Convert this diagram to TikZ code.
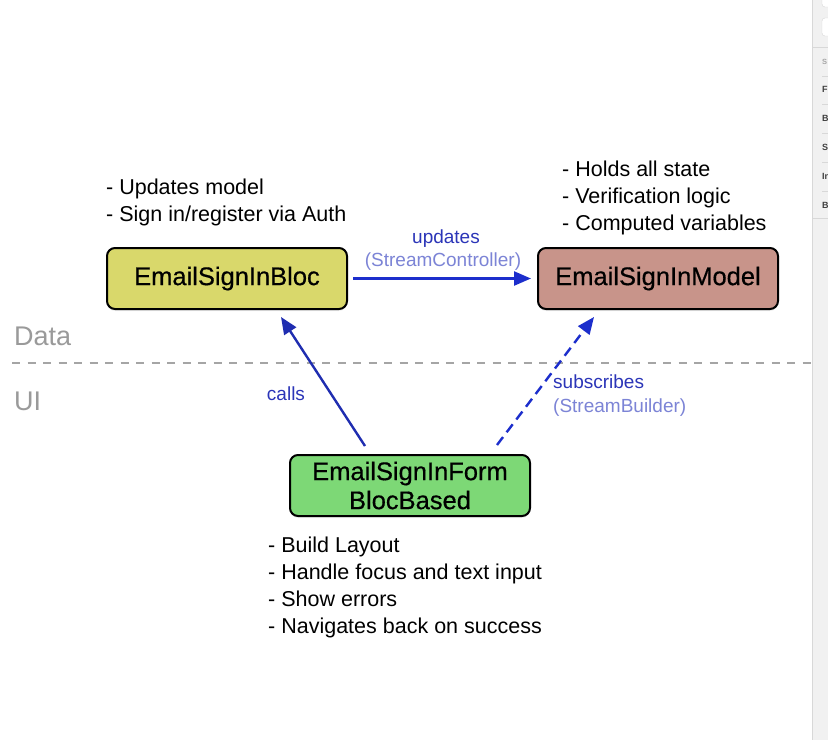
\documentclass[tikz,border=0pt]{standalone}
\usepackage{fontspec}
\setmainfont{Liberation Sans}
\newfontfamily\medfont{Liberation Sans}[FakeBold=0.5]
\usetikzlibrary{arrows.meta,shadows}
\definecolor{blocfill}{HTML}{D9D86B}
\definecolor{modelfill}{HTML}{C8948A}
\definecolor{formfill}{HTML}{7DD876}
\definecolor{arrblue}{HTML}{1C2ECC}
\definecolor{arrdark}{HTML}{1F2DB0}
\definecolor{lbldark}{HTML}{2B35B8}
\definecolor{lbllight}{HTML}{7C84D6}
\definecolor{sepgray}{HTML}{A5A5A5}
\definecolor{laygray}{HTML}{9A9A9A}
\definecolor{panelgray}{HTML}{F1F1F1}
\definecolor{panelline}{HTML}{D8D8D8}
\tikzset{
  classbox/.style={draw=black, line width=2pt, rounded corners=8pt,
    minimum width=240pt, minimum height=61pt, inner sep=0pt, align=center,
    font=\medfont\fontsize{25.5}{29}\selectfont,
    drop shadow={shadow xshift=0pt, shadow yshift=-2pt, opacity=0.12}},
  bullets/.style={anchor=base west, inner sep=0pt, align=left,
    font=\fontsize{21.5}{27}\selectfont},
  flow/.style={line width=2.4pt, -{Triangle[length=17pt,width=14pt]}},
  lbl/.style={inner sep=0pt, anchor=base, font=\fontsize{19}{23}\selectfont},
  layer/.style={inner sep=0pt, anchor=base west, text=laygray, font=\fontsize{27}{30}\selectfont},
  sidetxt/.style={inner sep=0pt, anchor=base west, font=\bfseries\fontsize{9}{10}\selectfont}
}
\begin{document}
\begin{tikzpicture}[x=1pt,y=-1pt]
\path[use as bounding box, fill=white] (0,0) rectangle (828,740);

% side panel of the window
\begin{scope}
\clip (0,0) rectangle (828,740);
\fill[panelgray] (812,0) rectangle (830,740);
\draw[panelline, line width=1pt] (812,0) -- (812,740);
\draw[panelline, fill=white, rounded corners=3pt] (822,-4) rectangle (836,7);
\draw[panelline, fill=white, rounded corners=3pt] (822,18) rectangle (836,36);
\draw[panelline] (812,47) -- (830,47);
\node[sidetxt, text=gray!70, font=\bfseries\fontsize{7.5}{9}\selectfont] (s0) at (822,64) {S};
\node[sidetxt, text=black!75] (s1) at (822,92) {F};
\node[sidetxt, text=black!75] (s2) at (822,121) {B};
\node[sidetxt, text=black!75] (s3) at (822,150) {S};
\node[sidetxt, text=black!75] (s4) at (822,179) {In};
\node[sidetxt, text=black!75] (s5) at (822,208) {B};
\foreach \yy in {76,104,133,162,191}{\draw[panelline] (822,\yy) -- (830,\yy);}
\draw[panelline] (812,218) -- (830,218);
\end{scope}

% layer separator
\draw[sepgray, line width=1.6pt, dash pattern=on 8pt off 7.5pt] (12,363) -- (812,363);
\node[layer] (data) at (14,345) {Data};
\node[layer] (ui) at (14,410) {UI};

% classes
\node[classbox, fill=blocfill] (bloc) at (227,278.5) {EmailSignInBloc};
\node[classbox, fill=modelfill] (model) at (658,278.5) {EmailSignInModel};
\node[classbox, fill=formfill] (form) at (410,485.5) {EmailSignInForm\\BlocBased};

% notes (base anchor = baseline of the last line)
\node[bullets] (blocnotes) at (106,221) {- Updates model\\- Sign in/register via Auth};
\node[bullets] (modelnotes) at (562,230) {- Holds all state\\- Verification logic\\- Computed variables};
\node[bullets] (formnotes) at (268,633) {- Build Layout\\- Handle focus and text input\\- Show errors\\- Navigates back on success};

% connectors
\draw[flow, arrblue] ([xshift=5pt]bloc.east) -- ([xshift=-6pt]model.west);
\node[lbl, text=lbldark] (updl) at (446,243) {updates};
\node[lbl, text=lbllight] (updl2) at (443,266) {(StreamController)};

\draw[flow, arrdark] ([xshift=-45pt,yshift=8pt]form.north) -- ([xshift=54pt,yshift=-7pt]bloc.south);
\node[lbl, text=lbldark] (callsl) at (286,400) {calls};

\draw[flow, arrblue, dash pattern=on 10pt off 6pt] ([xshift=87pt,yshift=9pt]form.north) -- ([xshift=-64pt,yshift=-7pt]model.south);
\node[lbl, anchor=base west, text=lbldark] (subl) at (553,388) {subscribes};
\node[lbl, anchor=base west, text=lbllight] (subl2) at (553,412) {(StreamBuilder)};
\end{tikzpicture}
\end{document}
